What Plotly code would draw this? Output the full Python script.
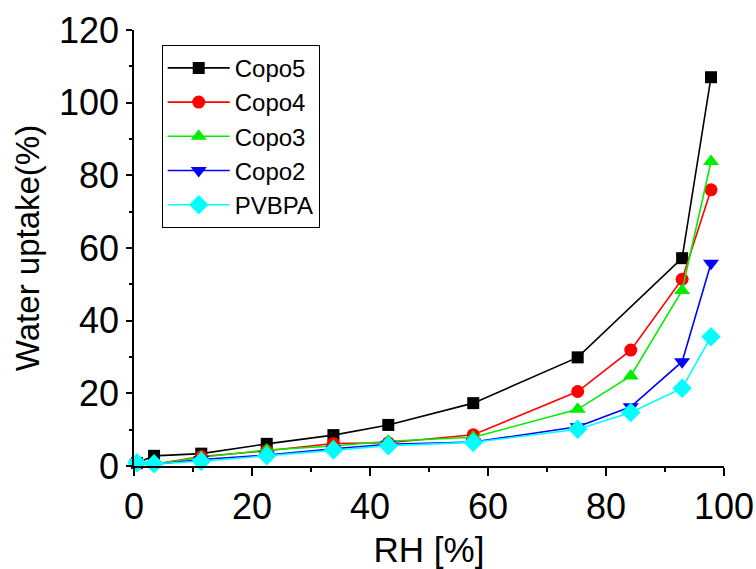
import plotly.graph_objects as go

rh_full = [0.5, 3.4, 11.4, 22.5, 33.8, 43.1, 57.5, 75.2, 84.2, 92.9, 97.8]
rh_copo5 = [0.5, 3.4, 11.4, 22.5, 33.8, 43.1, 57.5, 75.2, 92.9, 97.8]

copo5 = [0.8, 2.8, 3.4, 6.1, 8.5, 11.3, 17.3, 29.9, 57.2, 107.0]
copo4 = [0.6, 0.5, 2.6, 4.2, 6.2, 6.4, 8.6, 20.5, 31.9, 51.4, 76.0]
copo3 = [0.6, 0.5, 2.4, 4.4, 5.5, 6.8, 7.9, 15.6, 24.8, 48.3, 83.8]
copo2 = [0.8, 0.4, 1.8, 3.0, 4.7, 6.0, 6.6, 10.8, 16.3, 28.7, 55.8]
pvbpa = [0.9, 0.6, 1.3, 2.8, 4.4, 5.6, 6.5, 10.1, 14.7, 21.4, 35.6]

series = [
    ("Copo5", rh_copo5, copo5, "#000000", "square", 12),
    ("Copo4", rh_full, copo4, "#ff0000", "circle", 13),
    ("Copo3", rh_full, copo3, "#00ee00", "triangle-up", 14),
    ("Copo2", rh_full, copo2, "#0000ff", "triangle-down", 14),
    ("PVBPA", rh_full, pvbpa, "#00ffff", "diamond", 15),
]

x_ticks = [0, 20, 40, 60, 80, 100]
y_ticks = [0, 20, 40, 60, 80, 100, 120]

fig = go.Figure()
for name, xs, ys, col, sym, sz in series:
    fig.add_trace(go.Scatter(
        x=xs, y=ys, name=name, mode="lines+markers",
        line=dict(color=col, width=1.6),
        marker=dict(symbol=sym, size=sz, color=col),
        cliponaxis=False,
    ))

FONT = "Liberation Sans, Arial, sans-serif"
axis_common = dict(showgrid=False, zeroline=False, showline=True,
                   linecolor="black", linewidth=1.5, automargin=False)

fig.update_layout(
    width=756, height=569,
    margin=dict(l=134, r=32, t=30, b=103),
    paper_bgcolor="white", plot_bgcolor="white",
    font=dict(family=FONT, color="black", size=34),
    showlegend=True,
    legend=dict(x=0.047, y=0.966, xanchor="left", yanchor="top",
                bordercolor="black", borderwidth=1, bgcolor="white",
                font=dict(size=24, family=FONT), itemwidth=62,
                entrywidth=168, entrywidthmode="pixels",
                tracegroupgap=0),
    xaxis=dict(range=[0, 100], tickvals=x_ticks, ticks="outside", ticklen=8,
               tickwidth=1.5, tickcolor="black",
               minor=dict(dtick=10, ticks="outside", ticklen=4, tickwidth=1.5, tickcolor="black"),
               title=dict(text="RH [%]", standoff=34, font=dict(size=35)),
               tickfont=dict(size=36), **axis_common),
    yaxis=dict(range=[0, 120], tickvals=y_ticks, ticks="outside", ticklen=6,
               tickwidth=1.5, tickcolor="black",
               minor=dict(dtick=10, ticks="outside", ticklen=3, tickwidth=1.5, tickcolor="black"),
               title=dict(text="Water uptake(%)", standoff=9, font=dict(size=33)),
               tickfont=dict(size=36), **axis_common),
    xaxis2=dict(range=[0, 100], overlaying="x", side="top", tickvals=x_ticks,
                ticks="inside", ticklen=8, tickwidth=1.5, tickcolor="black",
                minor=dict(dtick=10, ticks="inside", ticklen=4, tickwidth=1.5, tickcolor="black"),
                showticklabels=False, **axis_common),
    yaxis2=dict(range=[0, 120], overlaying="y", side="right", tickvals=y_ticks,
                ticks="inside", ticklen=8, tickwidth=1.5, tickcolor="black",
                minor=dict(dtick=10, ticks="inside", ticklen=4, tickwidth=1.5, tickcolor="black"),
                showticklabels=False, **axis_common),
)

fig.write_html("out.html", config={"displayModeBar": False},
               post_script="document.body.style.margin='0px';")
